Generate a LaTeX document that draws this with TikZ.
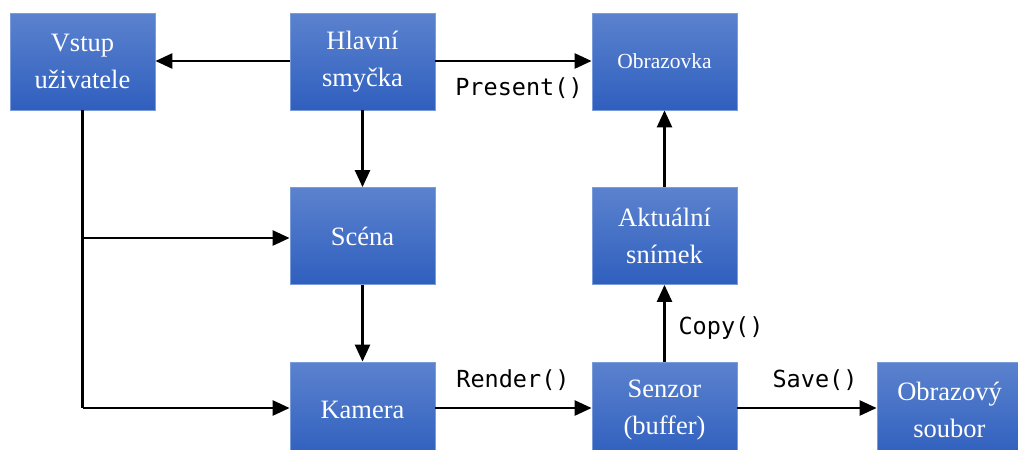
\documentclass[tikz,border=0pt]{standalone}
\usepackage{fontspec}
\setmainfont{Liberation Serif}
\newfontfamily\codefont{DejaVu Sans Mono}
\usetikzlibrary{arrows.meta}
\definecolor{boxtop}{HTML}{5B82CE}
\definecolor{boxbot}{HTML}{2F5FBE}
\definecolor{boxline}{HTML}{7A9CDB}
\tikzset{
  blk/.style={rectangle, minimum width=145pt, minimum height=97pt, inner sep=0pt,
    top color=boxtop, bottom color=boxbot, draw=boxline, line width=0.8pt,
    text=white, align=center, font=\fontsize{26.5}{37}\selectfont},
  small/.style={font=\fontsize{21.5}{26}\selectfont},
  conn/.style={line width=2.6pt, -{Triangle[length=17pt,width=15pt]}},
  plain/.style={line width=2.6pt},
  lbl/.style={font=\codefont\fontsize{23.5}{26}\selectfont, inner sep=0pt}
}
\begin{document}
\begin{tikzpicture}[x=1pt,y=-1pt]
\useasboundingbox (0,0) rectangle (1018,450);
\node[blk] (vstup) at (82.5,61.5) {Vstup\\uživatele};
\node[blk] (hlavni) at (362.5,61.5) {Hlavní\\smyčka};
\node[blk, small] (obraz) at (664.5,61.5) {Obrazovka};
\node[blk] (scena) at (362.5,236) {Scéna};
\node[blk] (aktual) at (664.5,236) {Aktuální\\snímek};
\node[blk, minimum height=96pt] (kamera) at (362.5,410) {Kamera};
\node[blk, minimum height=96pt] (senzor) at (664.5,410) {Senzor\\(buffer)};
\node[blk, minimum height=96pt] (soubor) at (949.5,410) {Obrazový\\soubor};
\coordinate (j1) at (82.5,238);
\coordinate (j2) at (82.5,408);
% connectors
\draw[conn] (hlavni.west |- 0,61) -- (vstup.east |- 0,61);
\draw[conn] (hlavni.east |- 0,61) -- (obraz.west |- 0,61);
\draw[conn] (hlavni) -- (scena);
\draw[conn] (scena) -- (kamera);
\draw[plain] (vstup.south) -- (j2);
\draw[conn] (j1) -- (scena.west |- j1);
\draw[conn] (j2) -- (kamera.west |- j2);
\draw[conn] (kamera.east |- j2) -- (senzor.west |- j2);
\draw[conn] (senzor.east |- j2) -- (soubor.west |- j2);
\draw[conn] (senzor.north) -- (aktual.south);
\draw[conn] (aktual.north) -- (obraz.south);
% labels
\node[lbl] (lpresent) at (519,88) {Present()};
\node[lbl] (lrender) at (513,380) {Render()};
\node[lbl] (lsave) at (815,380) {Save()};
\node[lbl] (lcopy) at (721,328) {Copy()};
\end{tikzpicture}
\end{document}
